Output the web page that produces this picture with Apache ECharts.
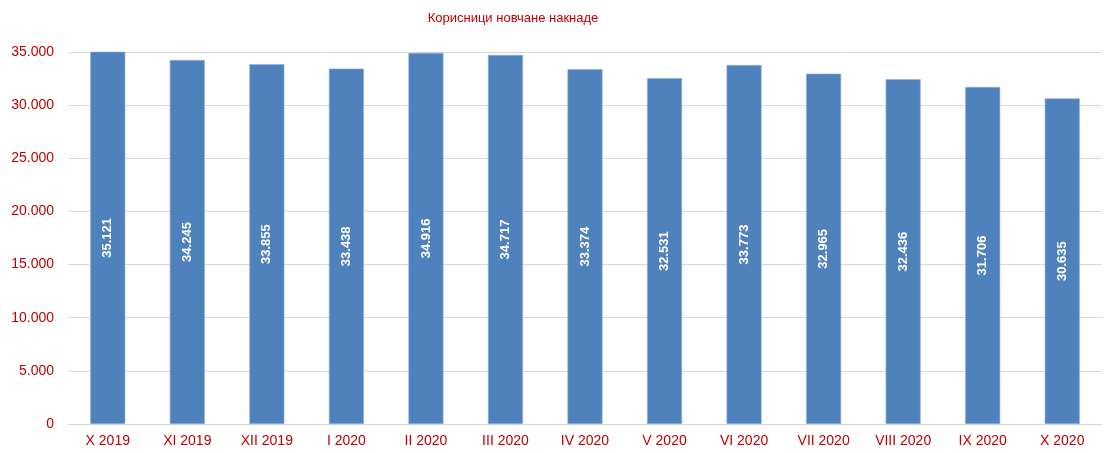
<!DOCTYPE html>
<html>
<head>
<meta charset="utf-8">
<script src="https://cdn.jsdelivr.net/npm/echarts@6/dist/echarts.min.js"></script>
<style>
  html, body { margin: 0; padding: 0; background: #fff; }
  #chart { width: 1113px; height: 453px; }
</style>
</head>
<body>
<div id="chart"></div>
<script>
// подаци
const months = ["X 2019", "XI 2019", "XII 2019", "I 2020", "II 2020", "III 2020", "IV 2020",
  "V 2020", "VI 2020", "VII 2020", "VIII 2020", "IX 2020", "X 2020"];
const beneficiaries = [35121, 34245, 33855, 33438, 34916, 34717, 33374, 32531, 33773, 32965, 32436, 31706, 30635];

const narrow = '"Liberation Sans Narrow", "Arial Narrow", "Liberation Sans", sans-serif';
const red = "#C00000";

function fmt(v) {
  // хиљаде одвојене тачком
  return String(v).replace(/\B(?=(\d{3})+(?!\d))/g, ".");
}

let chart = echarts.init(document.getElementById("chart"));
chart.setOption({
  animation: false,
  title: {
    text: "Корисници новчане накнаде",
    left: 508,
    top: 7,
    textAlign: "center",
    textStyle: { color: red, fontSize: 13, fontWeight: "normal", fontFamily: narrow }
  },
  grid: { left: 68, right: 11, top: 52, bottom: 29 },
  xAxis: {
    type: "category",
    data: months,
    axisTick: { show: false },
    axisLine: { lineStyle: { color: "#d9d9d9", width: 1 } },
    axisLabel: { color: red, fontSize: 14, fontFamily: narrow, margin: 10 }
  },
  yAxis: {
    type: "value",
    min: 0,
    max: 35000,
    interval: 5000,
    axisLine: { show: false },
    axisTick: { show: false },
    splitLine: { lineStyle: { color: "#d9d9d9" } },
    axisLabel: { color: red, fontSize: 14, fontFamily: narrow, margin: 14, formatter: fmt }
  },
  series: [{
    type: "bar",
    data: beneficiaries,
    barWidth: "44%",
    itemStyle: { color: "#4F81BD", borderColor: "#8DB0DA", borderWidth: 0.6 },
    label: {
      show: true,
      position: "inside",
      rotate: 90,
      color: "#fff",
      fontSize: 13,
      fontWeight: "bold",
      fontFamily: narrow,
      formatter: p => fmt(p.value)
    }
  }]
});
</script>
</body>
</html>
